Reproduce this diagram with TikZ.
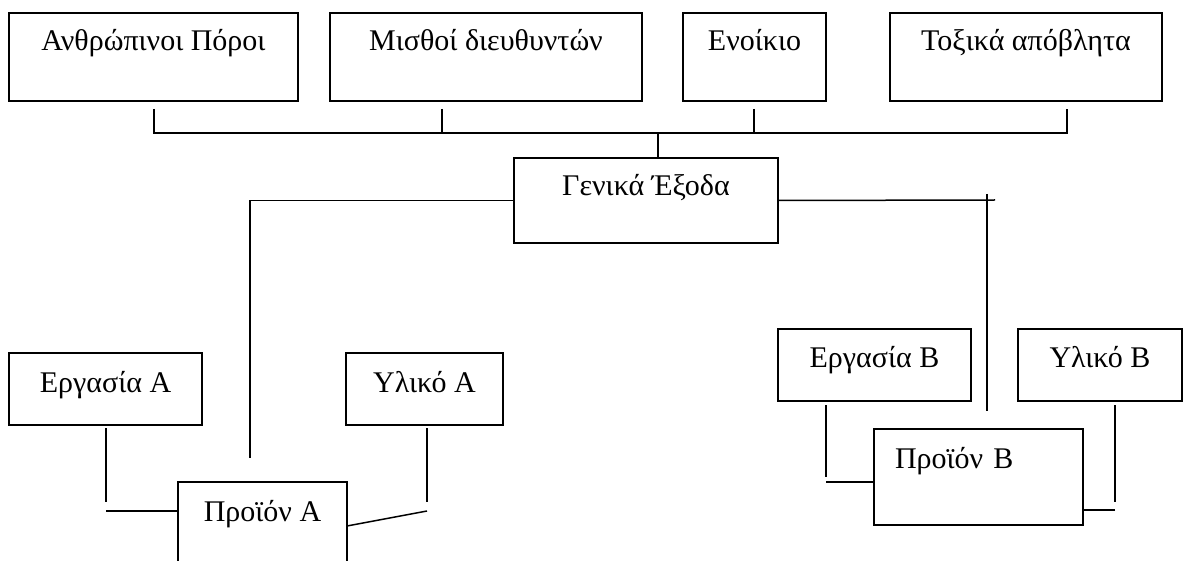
\documentclass[tikz,border=0pt]{standalone}
\usepackage{fontspec}
\setmainfont{Liberation Serif}
\begin{document}
\begin{tikzpicture}[x=1pt,y=-1pt, line width=1.5pt, line join=miter, font=\fontsize{30}{35}\selectfont,
	box/.style={draw, anchor=north west, inner sep=0pt, outer sep=0pt, text height=38pt},
	low/.style={box, text height=39pt, text depth=33pt}]
	\def\yt{109} \def\yb{133} % thanh ngang
	\clip (0,0) rectangle (1184,561);
	% hang tren
	\node[box, minimum width=289pt, text depth=50pt] (nhanluc) at (9,13) {Ανθρώπινοι Πόροι};
	\node[box, minimum width=312pt, text depth=50pt] (luong) at (330,13) {Μισθοί διευθυντών};
	\node[box, minimum width=143pt, text depth=50pt] (thue) at (683,13) {Ενοίκιο};
	\node[box, minimum width=272pt, text depth=50pt] (chatthai) at (890,13) {Τοξικά απόβλητα};
	\node[box, minimum width=264pt, text depth=47pt] (chung) at (514,158) {Γενικά Έξοδα};
	% san pham A, B
	\node[low, minimum width=193pt] (congA) at (9,353) {Εργασία Α};
	\node[low, minimum width=157pt] (vlA) at (346,353) {Υλικό Α};
	\node[low, minimum width=169pt, text depth=55pt] (spA) at (178,482) {Προϊόν Α};
	\node[low, minimum width=193pt] (congB) at (778,329) {Εργασία Β};
	\node[low, minimum width=164pt] (vlB) at (1018,329) {Υλικό Β};
	\node[low, inner xsep=21pt, text width=167pt, align=left, text depth=57pt] (spB) at (874,429) {Προϊόν Β};
	% cac diem noi
	\coordinate (t1) at (154,\yt); \coordinate (t2) at (442,\yt);
	\coordinate (t3) at (754,\yt); \coordinate (t4) at (1067,\yt);
	\coordinate (g) at (658,\yb);
	\coordinate (la) at (250,458);
	\coordinate (ra) at (995,200); \coordinate (rb) at (987,194); \coordinate (rc) at (987,411);
	\coordinate (a1) at (106,428); \coordinate (a2) at (106,502); \coordinate (a3) at (106,511);
	\coordinate (a4) at (427,428); \coordinate (a5) at (427,502); \coordinate (a6) at (427,511); \coordinate (a7) at (347,526);
	\coordinate (b1) at (826,405); \coordinate (b2) at (826,477); \coordinate (b3) at (826,482);
	\coordinate (b4) at (1115,405); \coordinate (b5) at (1115,502); \coordinate (b6) at (1115,510);
	% noi
	\draw (t1) |- (t4 |- g) -- (t4);
	\draw (t2) -- (t2 |- g); \draw (t3) -- (t3 |- g);
	\draw (g) -- (g |- chung.north);
	\draw (chung.west) -| (la);
	\draw (chung.east) -- (ra); \draw (rb) -- (rc);
	\draw (a1) -- (a2); \draw (a3) -- (a3 -| spA.west);
	\draw (a4) -- (a5); \draw (a6) -- (a7);
	\draw (b1) -- (b2); \draw (b3) -- (b3 -| spB.west);
	\draw (b4) -- (b5); \draw (b6) -- (b6 -| spB.east);
\end{tikzpicture}
\end{document}
